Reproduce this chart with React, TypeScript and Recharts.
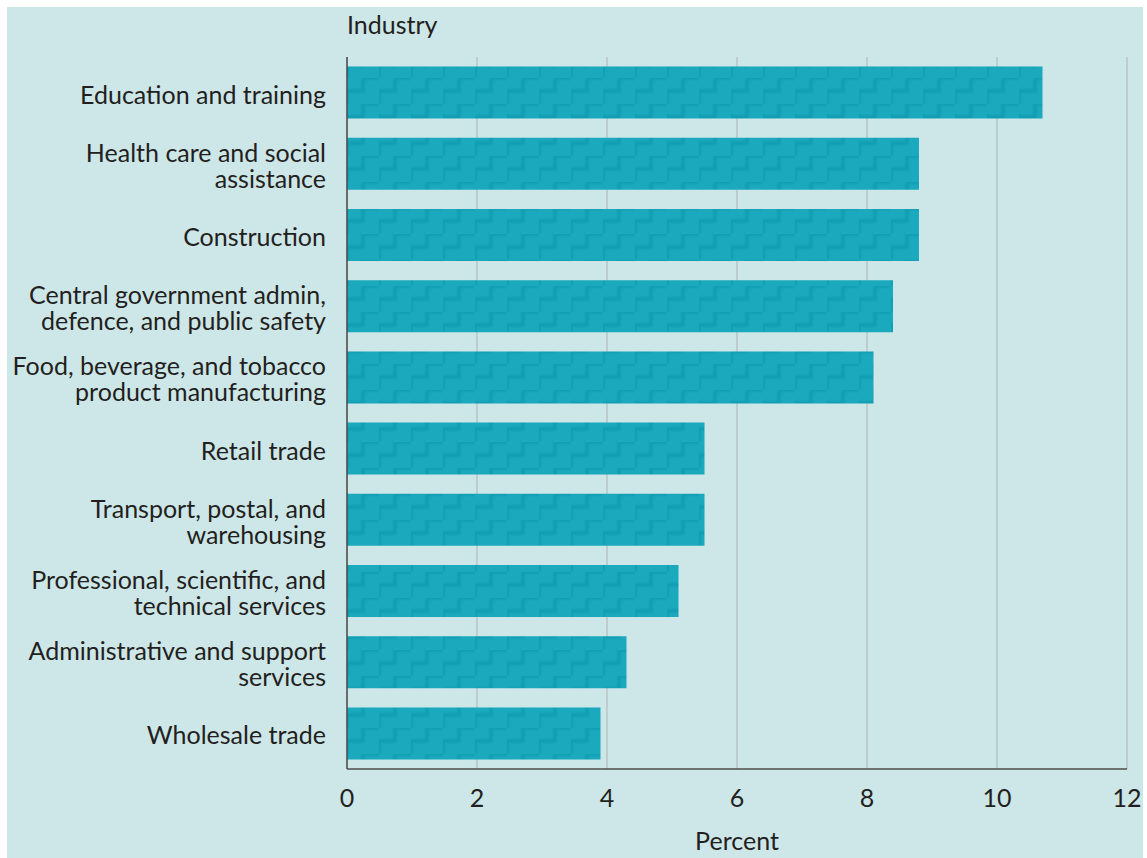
import React from 'react'
import { BarChart, Bar, XAxis, YAxis, CartesianGrid, Label } from 'recharts'

const industries = [
  'Education and training',
  'Health care and social\nassistance',
  'Construction',
  'Central government admin,\ndefence, and public safety',
  'Food, beverage, and tobacco\nproduct manufacturing',
  'Retail trade',
  'Transport, postal, and\nwarehousing',
  'Professional, scientific, and\ntechnical services',
  'Administrative and support\nservices',
  'Wholesale trade',
]

const percents = [10.7, 8.8, 8.8, 8.4, 8.1, 5.5, 5.5, 5.1, 4.3, 3.9]

const xTicks = [0, 2, 4, 6, 8, 10, 12]

const data = industries.map((name, i) => ({ name, value: percents[i] }))

const FONT = 'Lato, "Open Sans", sans-serif'
const INK = '#231f20'

function IndustryTick(props: any) {
  const { x, y, payload } = props
  const lines: string[] = String(payload.value).split('\n')
  const lineH = 26
  const start = -((lines.length - 1) * lineH) / 2
  return (
    <text x={x - 13} y={y} textAnchor="end" fill={INK} fontSize={25} fontFamily={FONT}>
      {lines.map((line, i) => (
        <tspan key={i} x={x - 13} dy={i === 0 ? start + 11 : lineH}>
          {line}
        </tspan>
      ))}
    </text>
  )
}

export default function App() {
  return (
    <div style={{ position: 'absolute', left: 0, top: 0, width: 1147, height: 858, background: '#fff' }}>
      <div
        style={{
          position: 'absolute',
          left: 7,
          top: 7,
          width: 1136,
          height: 851,
          background: '#cde6e7',
        }}
      />
      <div
        style={{
          position: 'absolute',
          left: 347,
          top: 9,
          fontFamily: FONT,
          fontSize: 25,
          color: INK,
          lineHeight: '30px',
        }}
      >
        Industry
      </div>
      <div style={{ position: 'absolute', left: 0, top: 0 }}>
        <BarChart
          width={1147}
          height={858}
          data={data}
          layout="vertical"
          margin={{ top: 57, right: 20, bottom: 0, left: 0 }}
          barCategoryGap="13.5%"
        >
          <defs>
            <filter id="soft" x="-20%" y="-20%" width="140%" height="140%">
              <feGaussianBlur stdDeviation="1.2" />
            </filter>
            <pattern id="stairs" patternUnits="userSpaceOnUse" width={32} height={26} x={347} y={0}>
              <rect width={32} height={26} fill="#1aa9bd" />
              <path
                d="M0 26 V13 H16 V0 H32"
                fill="none"
                stroke="#0e8a9e"
                strokeWidth={3.5}
                strokeOpacity={0.35}
                filter="url(#soft)"
              />
            </pattern>
          </defs>
          <CartesianGrid horizontal={false} stroke="#b7c3c4" strokeWidth={1.5} />
          <XAxis
            type="number"
            domain={[0, 12]}
            ticks={xTicks}
            tickLine={false}
            axisLine={{ stroke: '#4d4d4d', strokeWidth: 1.5 }}
            tick={{ fill: INK, fontSize: 25, fontFamily: FONT }}
            tickMargin={14}
            height={89}
          >
            <Label
              value="Percent"
              position="insideBottom"
              offset={8}
              fill={INK}
              fontSize={25}
              fontFamily={FONT}
            />
          </XAxis>
          <YAxis
            type="category"
            dataKey="name"
            width={347}
            tickLine={false}
            axisLine={{ stroke: '#4d4d4d', strokeWidth: 1.5 }}
            tick={<IndustryTick />}
            interval={0}
          />
          <Bar dataKey="value" fill="url(#stairs)" isAnimationActive={false} />
        </BarChart>
      </div>
    </div>
  )
}
